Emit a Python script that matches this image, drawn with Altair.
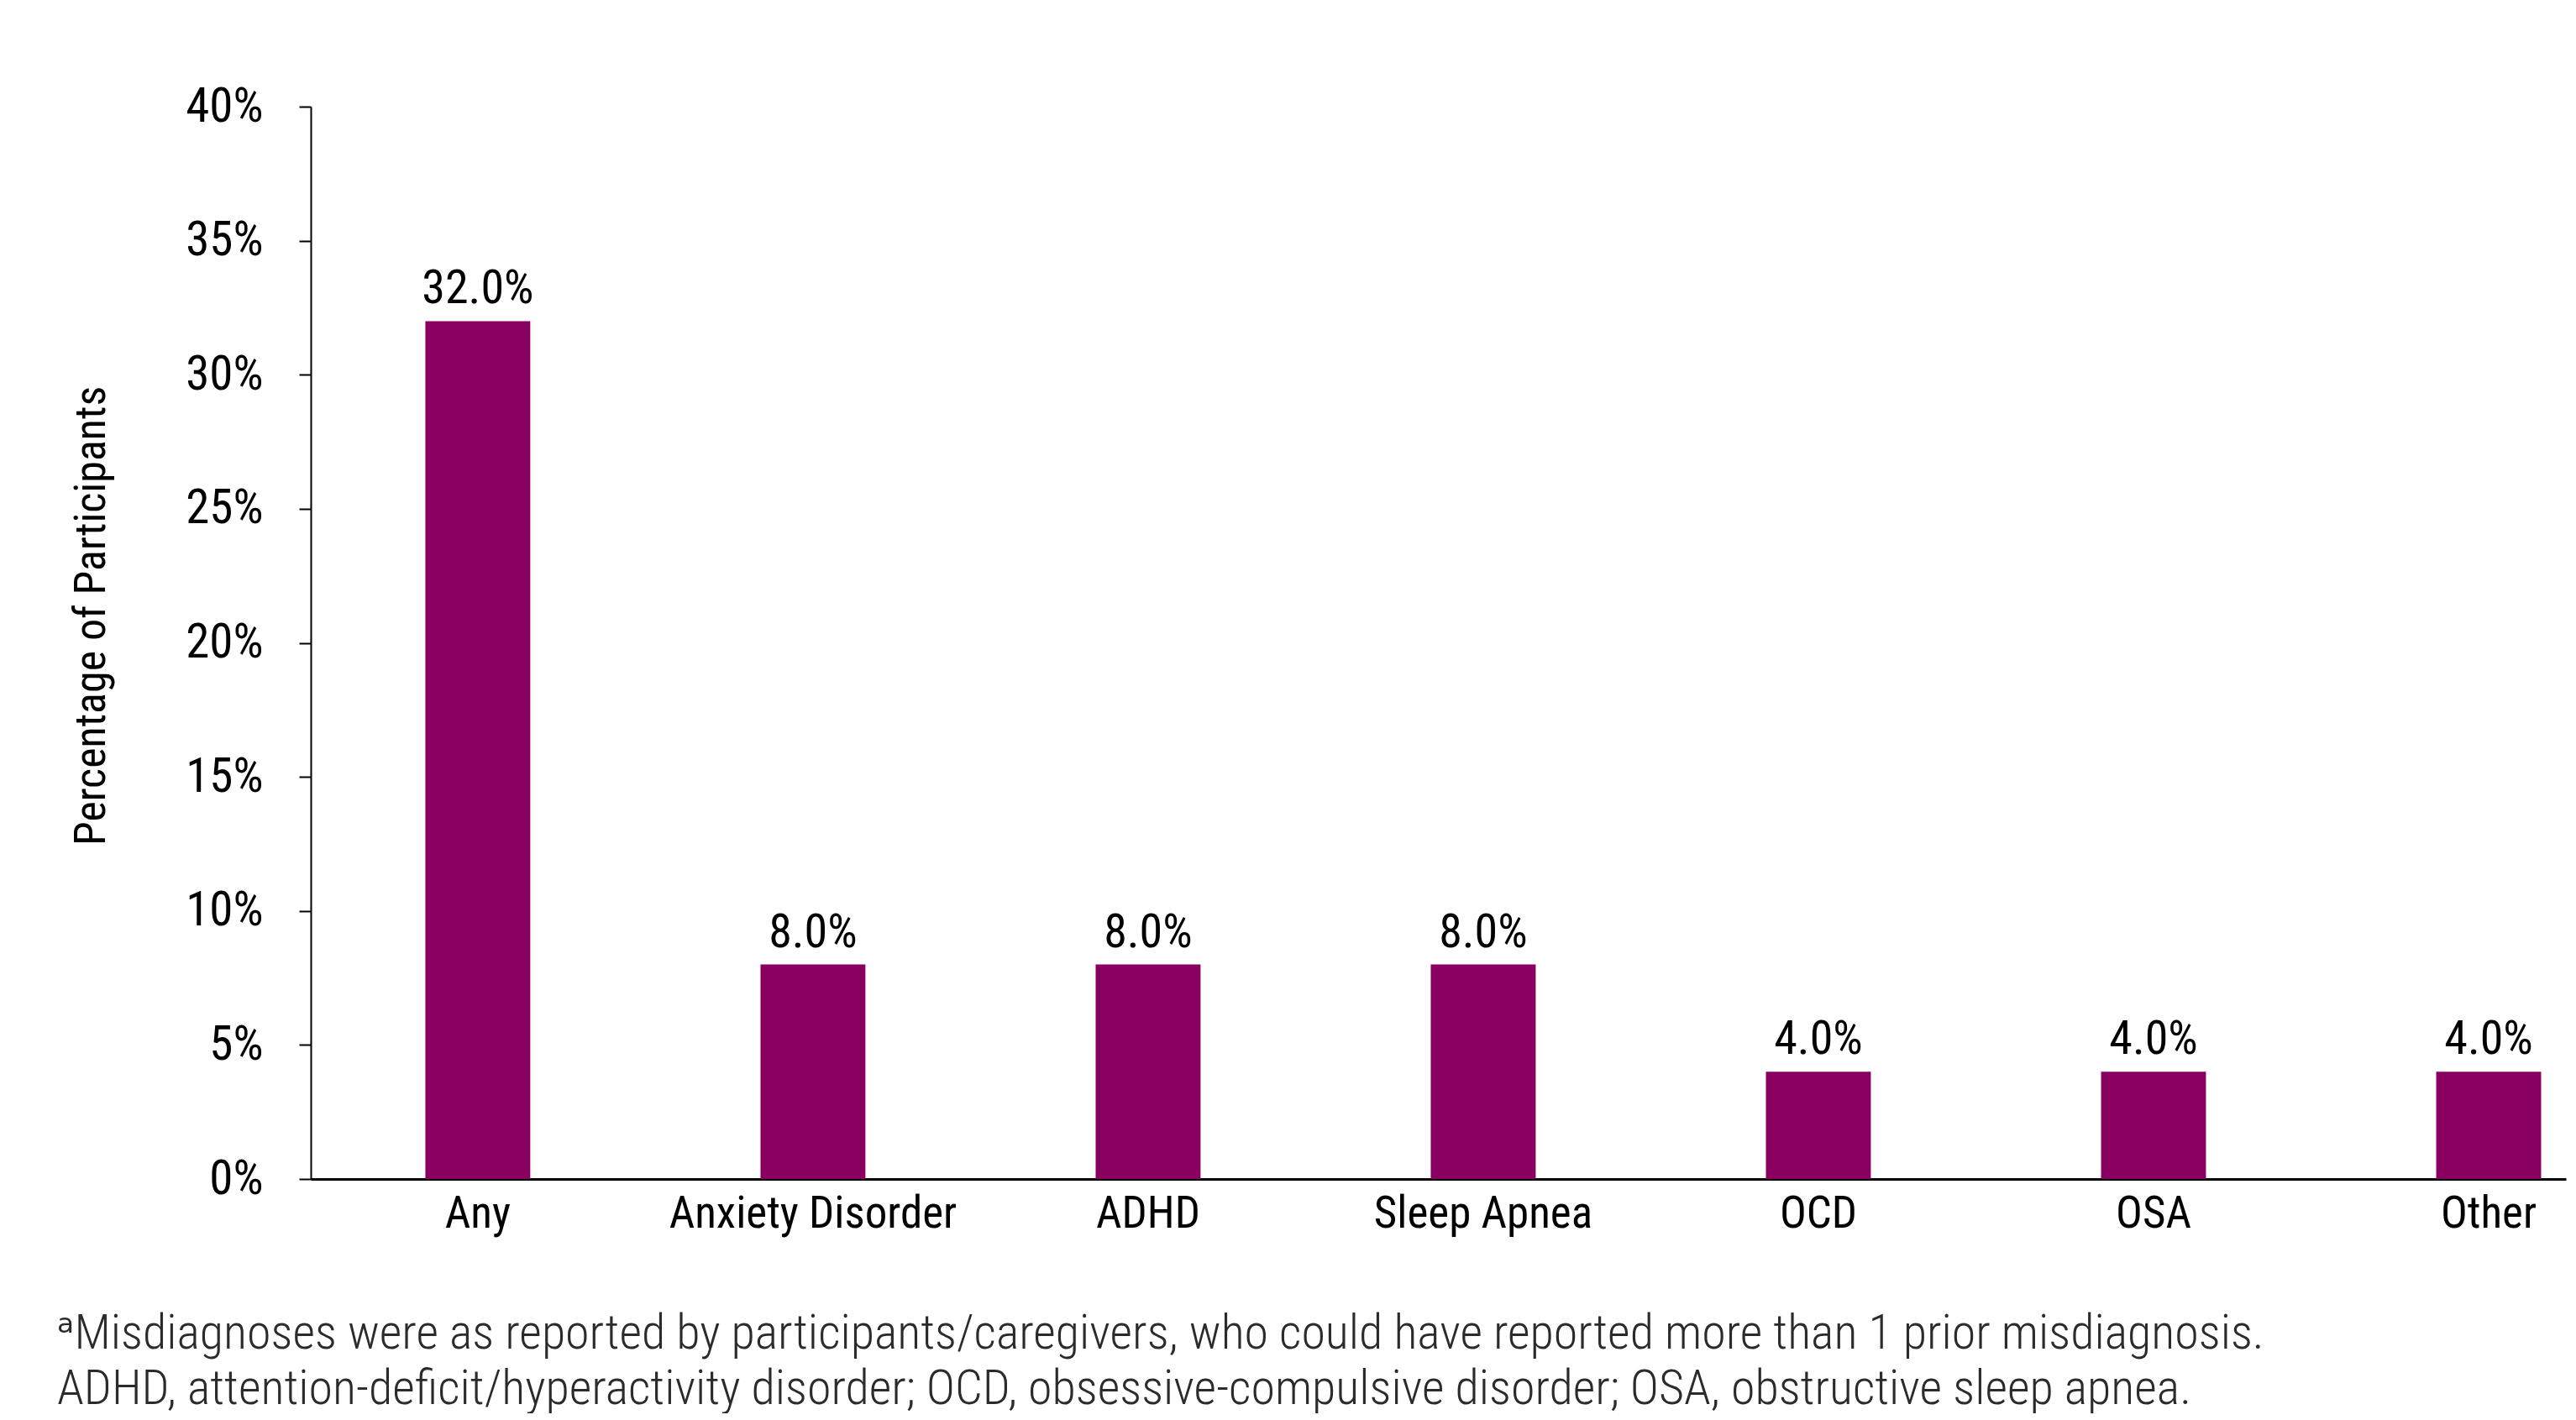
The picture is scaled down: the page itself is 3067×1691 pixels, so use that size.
import altair as alt
import pandas as pd

categories = ["Any", "Anxiety Disorder", "ADHD", "Sleep Apnea", "OCD", "OSA", "Other"]
percentages = [32.0, 8.0, 8.0, 8.0, 4.0, 4.0, 4.0]
y_ticks = [0, 5, 10, 15, 20, 25, 30, 35, 40]
y_title = "Percentage of Participants"
footnote = [
    "ᵃMisdiagnoses were as reported by participants/caregivers, who could have reported more than 1 prior misdiagnosis.",
    "ADHD, attention-deficit/hyperactivity disorder; OCD, obsessive-compulsive disorder; OSA, obstructive sleep apnea.",
]

df = pd.DataFrame({"category": categories, "pct": percentages})

FONT = "Roboto Condensed, Liberation Sans Narrow, Arial Narrow, DejaVu Sans Condensed, sans-serif"
BAR = "#8a0060"

x_enc = alt.X(
    "category:N",
    sort=categories,
    scale=alt.Scale(paddingInner=0.687, paddingOuter=0.208, align=0.822),
    axis=alt.Axis(
        title=None,
        labelAngle=0,
        ticks=False,
        tickSize=0,
        domainColor="black",
        domainWidth=3,
        labelFont=FONT,
        labelFontSize=53,
        labelColor="black",
        labelPadding=15,
        labelLimit=0,
    ),
)

y_enc = alt.Y(
    "pct:Q",
    scale=alt.Scale(domain=[0, 40], nice=False),
    axis=alt.Axis(
        values=y_ticks,
        labelExpr="datum.value + '%'",
        title=y_title,
        grid=False,
        domainColor="black",
        domainWidth=2,
        tickColor="black",
        tickWidth=2,
        tickSize=14,
        labelPadding=43,
        labelFont=FONT,
        labelFontSize=57,
        labelColor="black",
        titleFont=FONT,
        titleFontSize=52,
        titleFontWeight="normal",
        titleColor="black",
        titleX=-262,
        titleY=606,
        titleAlign="center",
        titleBaseline="middle",
    ),
)

bars = alt.Chart(df).mark_bar(color=BAR).encode(x=x_enc, y=y_enc)

labels = (
    alt.Chart(df)
    .transform_calculate(label="format(datum.pct, '.1f') + '%'")
    .mark_text(baseline="alphabetic", dy=-21, font=FONT, fontSize=56, color="black")
    .encode(x=alt.X("category:N", sort=categories), y=alt.Y("pct:Q"), text="label:N")
)

chart = (
    alt.layer(bars, labels)
    .properties(
        width=2685,
        height=1277,
        autosize=alt.AutoSizeParams(type="none"),
        padding={"left": 362, "top": 119, "right": 4, "bottom": 279},
        title=alt.TitleParams(
            text=footnote,
            orient="bottom",
            anchor="start",
            frame="group",
            dx=-302,
            offset=88,
            font=FONT,
            fontSize=58,
            fontWeight=300,
            color="#2b2b2b",
            lineHeight=66,
            limit=0,
        ),
    )
    .configure_view(stroke=None)
)

chart.save("out.html", embed_options={"renderer": "svg", "actions": False})
